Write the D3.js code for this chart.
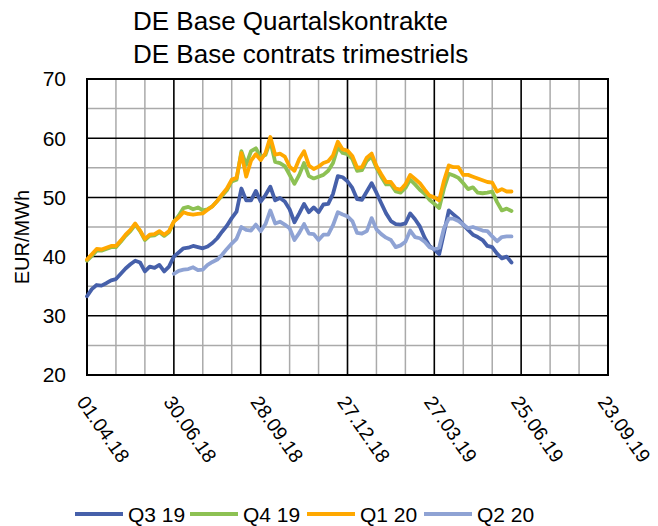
<!DOCTYPE html>
<html>
<head>
<meta charset="utf-8">
<script src="https://cdn.jsdelivr.net/npm/d3@7"></script>
<style>
  body { margin: 0; background: #fff; }
  svg { font-family: "Liberation Sans", Arial, sans-serif; }
</style>
</head>
<body>
<svg id="chart" width="658" height="526"></svg>
<script>
// --- data (one value every 5 days from 01.04.18) ---
const titleLines = ["DE Base Quartalskontrakte", "DE Base contrats trimestriels"];
const yLabel = "EUR/MWh";
const startDate = "2018-04-01";
const stepDays = 5;
const xTickLabels = ["01.04.18", "30.06.18", "28.09.18", "27.12.18", "27.03.19", "25.06.19", "23.09.19"];
const yTicks = [20, 30, 40, 50, 60, 70];

const seriesNames = ["Q3 19", "Q4 19", "Q1 20", "Q2 20"];
const seriesColors = ["#4660aa", "#8dc153", "#ffa800", "#8fa3d4"];
const seriesStart = [0, 0, 0, 18]; // index of first value

const q319 = [33.3, 34.5, 35.2, 35.1, 35.5, 36.0, 36.2, 37.1, 38.0, 38.7,
  39.3, 39.0, 37.5, 38.3, 38.1, 38.6, 37.5, 38.3, 40.0, 40.7,
  41.4, 41.5, 41.8, 41.6, 41.4, 41.7, 42.3, 43.1, 44.2, 45.2,
  46.5, 47.6, 51.5, 49.5, 49.5, 51.1, 49.3, 50.4, 51.8, 49.5,
  49.9, 49.3, 48.0, 45.8, 47.3, 48.9, 47.5, 48.3, 47.5, 48.8,
  48.9, 50.6, 53.6, 53.4, 52.7, 51.6, 49.7, 49.6, 51.0, 52.4,
  50.8, 49.0, 47.3, 46.0, 45.5, 45.4, 45.6, 47.3, 46.3, 45.1,
  43.2, 41.8, 41.2, 40.4, 44.0, 47.8, 47.1, 46.4, 45.4, 44.5,
  43.7, 43.3, 42.8, 41.8, 41.6, 40.5, 39.7, 40.0, 39.0];

const q419 = [39.3, 40.1, 41.0, 41.0, 41.3, 41.6, 41.6, 42.5, 43.5, 44.3,
  45.4, 44.3, 42.8, 43.5, 43.6, 44.1, 43.5, 44.1, 45.9, 46.9,
  48.2, 48.4, 48.0, 48.3, 47.8, 48.0, 48.5, 49.4, 50.3, 51.2,
  52.7, 53.0, 57.8, 55.5, 57.8, 58.3, 56.8, 57.2, 59.5, 56.0,
  55.8, 55.3, 53.8, 52.3, 53.8, 55.8, 53.6, 53.2, 53.5, 53.8,
  54.5, 55.8, 58.5, 57.5, 57.3, 56.5, 54.5, 54.6, 56.2, 56.9,
  55.0, 53.5, 52.2, 52.2, 51.0, 50.8, 51.6, 53.0, 52.2, 51.3,
  50.6, 49.6, 48.9, 48.2, 51.5, 54.0, 53.7, 53.3, 52.4, 51.4,
  51.7, 50.8, 50.7, 50.8, 51.0, 49.2, 47.8, 48.1, 47.7];

const q120 = [39.5, 40.4, 41.3, 41.2, 41.5, 41.8, 41.8, 42.7, 43.7, 44.5,
  45.6, 44.4, 43.0, 43.7, 43.8, 44.3, 43.7, 44.3, 45.9, 46.6,
  47.5, 47.2, 47.1, 47.2, 47.3, 47.9, 48.5, 49.4, 50.5, 51.5,
  53.0, 53.3, 57.5, 53.5, 56.2, 57.3, 56.3, 57.5, 60.2, 57.2,
  57.4, 56.9, 55.2, 54.5, 56.5, 57.8, 55.4, 54.8, 55.2, 55.8,
  56.1, 57.1, 59.4, 58.1, 57.9, 57.0, 55.0, 55.1, 56.7, 57.4,
  55.3, 53.9, 52.6, 52.6, 51.5, 51.3, 52.2, 53.8, 53.1, 52.4,
  51.3, 50.3, 50.0, 49.5, 52.8, 55.4, 55.1, 55.1, 53.8, 53.8,
  53.5, 53.2, 52.9, 52.6, 52.5, 51.0, 51.4, 51.0, 51.0];

const q220 = [37.1, 37.6, 37.8, 37.9, 38.2, 37.7, 37.8, 38.6, 39.1, 39.5,
  40.3, 41.3, 42.2, 43.0, 45.0, 44.5, 44.4, 45.4, 44.3, 45.5,
  47.8, 45.6, 45.9, 45.4, 44.8, 42.8, 44.0, 45.5, 43.9, 43.8,
  42.8, 43.7, 43.7, 45.3, 47.5, 47.1, 46.8, 46.0, 44.0, 43.9,
  44.3, 46.5, 44.6, 43.8, 43.2, 42.8, 41.6, 41.9, 42.5, 44.4,
  43.3, 43.1, 42.5, 41.6, 41.3, 41.5, 44.8, 46.4, 46.4, 46.0,
  45.4, 44.8, 45.0, 44.7, 44.4, 44.3, 43.4, 42.6, 43.3, 43.4,
  43.4];

const seriesValues = [q319, q419, q120, q220];

// --- layout ---
const svg = d3.select("#chart");
const margin = { left: 87, right: 50, top: 79, bottom: 151 };
const W = 658, H = 526;
const plotW = W - margin.left - margin.right;
const plotH = H - margin.top - margin.bottom;

const parseTick = d3.utcParse("%d.%m.%y");
const tickDates = xTickLabels.map(parseTick);
const t0 = d3.utcParse("%Y-%m-%d")(startDate);

const x = d3.scaleUtc()
  .domain([tickDates[0], tickDates[tickDates.length - 1]])
  .range([margin.left, margin.left + plotW]);
const y = d3.scaleLinear().domain([20, 70]).range([margin.top + plotH, margin.top]);

const g = svg.append("g");

// minor grid (every 30 days, every 5 EUR)
const minorX = d3.utcDay.range(tickDates[0], d3.utcDay.offset(tickDates[tickDates.length - 1], 1))
  .filter((d, i) => i % 30 === 0);
g.selectAll(".vminor").data(minorX).join("line")
  .attr("x1", d => x(d)).attr("x2", d => x(d))
  .attr("y1", y(20)).attr("y2", y(70))
  .attr("stroke", "#aaaaaa").attr("stroke-width", 1.5);
g.selectAll(".hminor").data(d3.range(25, 70, 10)).join("line")
  .attr("x1", x.range()[0]).attr("x2", x.range()[1])
  .attr("y1", d => y(d)).attr("y2", d => y(d))
  .attr("stroke", "#aaaaaa").attr("stroke-width", 1.5);

// major grid
g.selectAll(".vmajor").data(tickDates).join("line")
  .attr("x1", d => x(d)).attr("x2", d => x(d))
  .attr("y1", y(20)).attr("y2", y(70))
  .attr("stroke", "#000").attr("stroke-width", 1.5);
g.selectAll(".hmajor").data(yTicks).join("line")
  .attr("x1", x.range()[0]).attr("x2", x.range()[1])
  .attr("y1", d => y(d)).attr("y2", d => y(d))
  .attr("stroke", "#000").attr("stroke-width", 1.5);

g.append("rect")
  .attr("x", margin.left).attr("y", margin.top)
  .attr("width", plotW).attr("height", plotH)
  .attr("fill", "none").attr("stroke", "#000").attr("stroke-width", 2);

// series lines
const line = d3.line()
  .x(d => x(d.date)).y(d => y(d.v));

seriesValues.forEach((vals, s) => {
  const pts = vals.map((v, i) => ({
    date: d3.utcDay.offset(t0, (seriesStart[s] + i) * stepDays), v
  }));
  g.append("path")
    .datum(pts)
    .attr("d", line)
    .attr("fill", "none")
    .attr("stroke", seriesColors[s])
    .attr("stroke-width", 3.8)
    .attr("stroke-linejoin", "round")
    .attr("stroke-linecap", "round");
});

// y tick labels
svg.selectAll(".ylab").data(yTicks).join("text")
  .attr("x", 66).attr("y", d => y(d))
  .attr("dy", "0.35em")
  .attr("text-anchor", "end")
  .attr("font-size", 21)
  .attr("fill", "#000")
  .text(d => d);

svg.append("text")
  .attr("transform", `translate(29,${margin.top + plotH / 2 + 10}) rotate(-90)`)
  .attr("text-anchor", "middle")
  .attr("font-size", 20)
  .text(yLabel);

// x tick labels, rotated
svg.selectAll(".xlab").data(tickDates).join("text")
  .attr("transform", d => `translate(${x(d) - 11},${margin.top + plotH + 27}) rotate(55)`)
  .attr("font-size", 19.5)
  .text((d, i) => xTickLabels[i]);

// title
svg.selectAll(".title").data(titleLines).join("text")
  .attr("x", 133).attr("y", (d, i) => 30 + i * 33)
  .attr("font-size", 26)
  .text(d => d);

// legend
const legX = [75, 190, 307, 424];
const legend = svg.selectAll(".leg").data(seriesNames).join("g")
  .attr("transform", (d, i) => `translate(${legX[i]},514)`);
legend.append("line")
  .attr("x1", 0).attr("x2", 48)
  .attr("stroke", (d, i) => seriesColors[i])
  .attr("stroke-width", 3.8);
legend.append("text")
  .attr("x", 53).attr("dy", "0.36em")
  .attr("font-size", 21)
  .text(d => d);
</script>
</body>
</html>
